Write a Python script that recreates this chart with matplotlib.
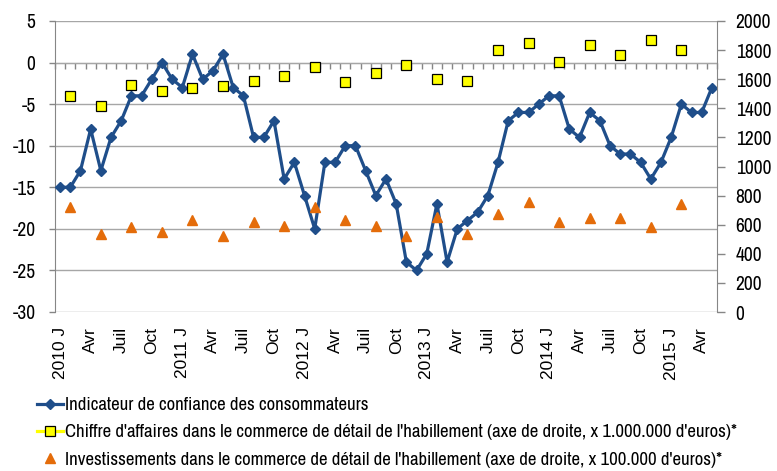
import numpy as np
import matplotlib
matplotlib.use('Agg')
import matplotlib.pyplot as plt
from matplotlib.lines import Line2D

plt.rcParams['axes.unicode_minus'] = False

# monthly consumer confidence, Jan 2010 - May 2015
confiance = [-15, -15, -13, -8, -13, -9, -7, -4, -4, -2, 0, -2,          # 2010
             -3, 1, -2, -1, 1, -3, -4, -9, -9, -7, -14, -12,             # 2011
             -16, -20, -12, -12, -10, -10, -13, -16, -14, -17, -24, -25, # 2012
             -23, -17, -24, -20, -19, -18, -16, -12, -7, -6, -6, -5,     # 2013
             -4, -4, -8, -9, -6, -7, -10, -11, -11, -12, -14, -12,       # 2014
             -9, -5, -6, -6, -3]                                         # 2015

# quarterly series (right axis), 2010 T1 - 2015 T1
chiffre = [1483, 1419, 1559, 1520, 1541, 1554, 1587, 1623, 1687, 1584, 1641,
           1696, 1598, 1586, 1804, 1851, 1716, 1833, 1767, 1870, 1803]
invest = [725, 535, 587, 553, 629, 523, 619, 594, 720, 629, 592,
          523, 656, 537, 675, 753, 616, 648, 645, 586, 744]

tick_labels = ['2010 J', 'Avr', 'Juil', 'Oct', '2011 J', 'Avr', 'Juil', 'Oct',
               '2012 J', 'Avr', 'Juil', 'Oct', '2013 J', 'Avr', 'Juil', 'Oct',
               '2014 J', 'Avr', 'Juil', 'Oct', '2015 J', 'Avr']

labels = ["Indicateur de confiance des consommateurs",
          "Chiffre d'affaires dans le commerce de détail de l'habillement (axe de droite, x 1.000.000 d'euros)*",
          "Investissements dans le commerce de détail de l'habillement (axe de droite, x 100.000 d'euros)*"]

narrow = ['Archivo Narrow', 'DejaVu Sans']
regular = ['Liberation Sans', 'DejaVu Sans']
blue = '#1f4e8a'
orange = '#e46c0a'
yellow = '#ffff00'
axis_gray = '#868686'
grid_gray = '#a6a6a6'

x = np.arange(len(confiance))
xq = np.arange(1, len(confiance), 3)[:len(chiffre)]  # middle month of each quarter

fig = plt.figure(figsize=(7.77, 4.71), dpi=100)
ax = fig.add_axes([55/777, 1 - 312/471, 662/777, 291/471])
ax2 = ax.twinx()

ax.plot(x, confiance, color=blue, lw=2.3, marker='D', ms=5, zorder=3)
ax2.plot(xq, chiffre, ls='none', marker='s', ms=7, mfc=yellow, mec='black', mew=0.9)
ax2.plot(xq, invest, ls='none', marker='^', ms=7, color=orange)

ax.set_xlim(-0.5, len(confiance) - 0.5)
ax.set_ylim(-30, 5)
ax2.set_ylim(0, 2000)

ax.set_yticks(range(-30, 6, 5))
ax2.set_yticks(range(0, 2001, 200))
ax.yaxis.grid(True, color=grid_gray, lw=1)
ax.set_axisbelow(True)

ax.set_xticks(np.arange(0, len(confiance), 3))
ax.set_xticklabels(tick_labels, rotation=90, family=regular, fontsize=12.5)
ax.tick_params(axis='x', length=0, pad=11)
ax.tick_params(axis='y', length=4, color=axis_gray, width=1, pad=10)
ax2.tick_params(axis='y', length=5.5, color=axis_gray, width=1, pad=8)
for t in ax.get_yticklabels() + ax2.get_yticklabels():
    t.set_family(narrow)
    t.set_fontsize(14)

for s in ['top', 'bottom', 'right']:
    ax.spines[s].set_visible(False)
for s in ['top', 'bottom', 'left']:
    ax2.spines[s].set_visible(False)
ax.spines['left'].set_color(axis_gray)
ax2.spines['right'].set_color(axis_gray)

# category axis crossing at zero, tick marks between months
ymin, ymax = ax.get_ylim()
sec = ax.secondary_xaxis((0 - ymin) / (ymax - ymin))
sec.set_xticks(np.arange(-0.5, len(confiance), 1))
sec.tick_params(direction='in', length=4.5, color=axis_gray, width=1,
                labeltop=False, labelbottom=False)
sec.spines['top'].set_color(axis_gray)
sec.spines['bottom'].set_visible(False)

handles = [Line2D([], [], color=blue, lw=2.3, marker='D', ms=5),
           Line2D([], [], color=yellow, lw=2.3, marker='s', ms=7, mfc=yellow, mec='black', mew=0.9),
           Line2D([], [], ls='none', marker='^', ms=7, color=orange)]
fig.legend(handles, labels, loc='upper left', bbox_to_anchor=(37/777, 1 - 397/471),
           frameon=False, handlelength=1.4, handletextpad=0.08, labelspacing=0.6,
           borderpad=0, borderaxespad=0, prop={'family': narrow, 'size': 13.5})

fig.savefig('out.png', dpi=100)
